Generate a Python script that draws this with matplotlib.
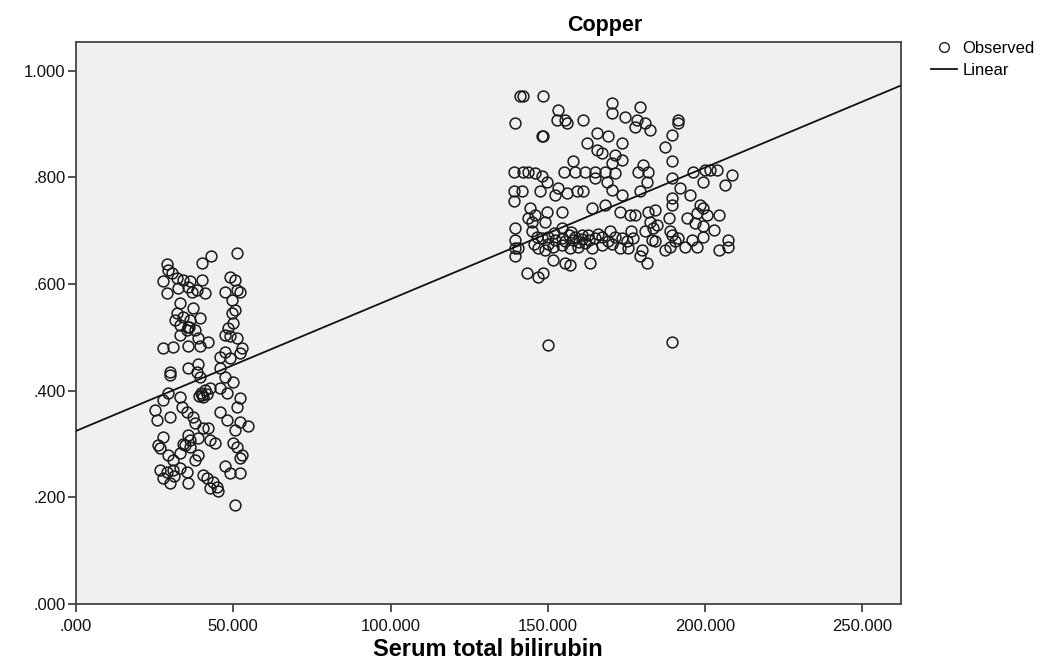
import matplotlib
matplotlib.use("Agg")
import matplotlib.pyplot as plt
from matplotlib.ticker import FuncFormatter
from matplotlib.lines import Line2D

plt.rcParams['font.family'] = ['Liberation Sans', 'DejaVu Sans']

# ---- data ----
title = "Copper"
x_label = "Serum total bilirubin"

low_x = [51.1, 42.8, 40.0, 28.8, 29.4, 30.4, 27.8, 32.0, 34.1, 36.3, 40.0, 35.7, 32.5, 28.8, 38.4,
         41.0, 36.8, 49.0, 50.6, 51.1, 47.4, 52.2, 49.5, 50.6, 49.5, 33.1, 37.3, 32.0, 34.1, 31.5,
         36.3, 39.4, 33.1, 35.7, 37.8, 35.2, 50.0, 48.4, 47.4, 49.0, 51.1, 33.1, 38.9, 42.1, 39.4,
         35.7, 27.8, 30.9, 52.7, 52.2, 47.4, 45.8, 49.0, 29.9, 35.7, 38.9, 38.4, 45.8,
         29.9, 39.4, 47.4, 50.0, 29.4, 33.1, 27.8, 40.0, 40.3, 39.7, 41.0, 42.6, 45.8, 47.9, 52.2,
         51.1, 25.1, 29.9, 33.6, 35.2, 25.7, 37.3, 37.8, 45.8, 47.9, 52.2, 54.8, 50.6, 40.5, 42.1,
         27.8, 35.7, 36.3, 38.9, 42.6, 44.2, 26.2, 26.7, 34.7, 36.3, 50.0, 51.1, 52.7, 52.2, 29.4,
         33.1, 38.9, 37.8, 26.7, 28.8, 30.9, 33.1, 35.2, 47.4, 49.0, 52.2, 27.8, 29.9, 35.7, 40.5,
         41.6, 43.7, 44.7, 45.3, 42.6, 50.6, 30.9, 39.0, 41.5, 36.0, 34.0, 31.0]
low_y = [0.658, 0.653, 0.639, 0.638, 0.627, 0.621, 0.605, 0.612, 0.608, 0.605, 0.608, 0.595, 0.593, 0.583, 0.589,
         0.583, 0.586, 0.614, 0.608, 0.589, 0.586, 0.586, 0.570, 0.552, 0.545, 0.564, 0.555, 0.545, 0.539, 0.533,
         0.533, 0.536, 0.523, 0.520, 0.514, 0.514, 0.527, 0.517, 0.505, 0.502, 0.498, 0.505, 0.498, 0.492, 0.483,
         0.483, 0.480, 0.482, 0.480, 0.470, 0.473, 0.464, 0.461, 0.436, 0.442, 0.451, 0.436, 0.442,
         0.430, 0.426, 0.426, 0.417, 0.395, 0.389, 0.383, 0.392, 0.388, 0.396, 0.401, 0.405, 0.405, 0.395, 0.386,
         0.370, 0.364, 0.351, 0.370, 0.361, 0.345, 0.351, 0.339, 0.361, 0.345, 0.342, 0.333, 0.326, 0.330, 0.330,
         0.314, 0.317, 0.308, 0.311, 0.308, 0.302, 0.298, 0.292, 0.298, 0.295, 0.302, 0.295, 0.280, 0.273, 0.280,
         0.283, 0.280, 0.270, 0.251, 0.248, 0.251, 0.255, 0.248, 0.258, 0.245, 0.245, 0.236, 0.226, 0.226, 0.242,
         0.236, 0.229, 0.220, 0.211, 0.217, 0.186, 0.270, 0.390, 0.394, 0.520, 0.300, 0.240]

high_x = [141.2, 142.2, 148.6, 139.6, 153.4, 152.9, 155.5, 156.0, 161.3, 170.4, 170.4, 174.6, 148.1, 148.6,
          165.6, 169.3, 173.5, 162.4, 165.6, 167.2, 171.4, 158.1, 170.4, 173.5, 139.1, 142.2, 143.8, 146.0,
          148.1, 155.0, 158.7, 161.9, 165.0, 168.2, 171.4, 165.0, 168.7, 149.7, 153.4, 139.1, 141.7, 147.6,
          152.3, 156.0, 159.2, 161.3, 170.4, 173.5, 139.1, 144.4, 149.7, 154.5, 164.0, 168.2, 173.0, 176.2,
          143.8, 144.9, 149.1, 139.6, 154.5, 139.6, 139.6, 140.6, 139.6,
          144.9, 146.5, 148.1, 150.2, 152.3, 154.5, 156.6, 158.7, 160.8, 162.9, 165.0, 167.2, 169.8, 171.4,
          173.5, 175.1, 175.6, 147.0, 149.1, 151.8, 154.5, 157.1, 159.7, 161.9, 164.0, 167.2, 169.3, 173.0,
          151.8, 155.5, 157.1, 163.5, 143.3, 147.0, 148.6, 150.2,
          155.5, 158.0, 160.0, 163.0, 150.0, 145.5, 152.0, 157.5, 161.0, 166.0, 170.5, 146.0,
          179.4, 178.3, 180.9, 182.5, 177.8, 191.5, 191.5, 189.4, 187.3, 189.4, 180.4, 178.8, 181.9, 181.5,
          179.4, 196.3, 200.0, 201.6, 203.7, 208.5, 206.4, 199.5, 189.4, 192.1, 195.3, 189.4, 189.4, 177.8,
          182.0, 184.1, 188.4, 194.2, 198.4, 199.5, 197.4, 200.5, 204.3, 182.5, 184.7, 181.0, 183.6, 196.8,
          199.5, 202.7, 188.9, 189.4, 199.5, 183.1, 184.1, 191.5, 190.5, 195.8, 197.4, 188.9, 193.7, 187.3,
          207.4, 207.4, 204.3, 179.9, 179.4, 181.5, 189.4, 176.5, 177.0]
high_y = [0.952, 0.952, 0.952, 0.902, 0.927, 0.908, 0.908, 0.902, 0.908, 0.939, 0.921, 0.914, 0.877, 0.877,
          0.883, 0.877, 0.864, 0.864, 0.852, 0.846, 0.842, 0.830, 0.827, 0.833, 0.811, 0.811, 0.811, 0.808,
          0.802, 0.811, 0.811, 0.811, 0.811, 0.811, 0.808, 0.799, 0.792, 0.792, 0.780, 0.774, 0.774, 0.774,
          0.767, 0.771, 0.774, 0.774, 0.777, 0.767, 0.755, 0.742, 0.736, 0.736, 0.742, 0.749, 0.736, 0.730,
          0.724, 0.717, 0.717, 0.705, 0.705, 0.683, 0.667, 0.667, 0.652,
          0.699, 0.689, 0.686, 0.689, 0.683, 0.686, 0.692, 0.689, 0.692, 0.692, 0.686, 0.689, 0.699, 0.689,
          0.686, 0.680, 0.667, 0.667, 0.664, 0.670, 0.674, 0.667, 0.670, 0.677, 0.667, 0.674, 0.680, 0.667,
          0.645, 0.639, 0.636, 0.639, 0.620, 0.614, 0.620, 0.486,
          0.680, 0.683, 0.678, 0.683, 0.676, 0.675, 0.695, 0.697, 0.684, 0.694, 0.676, 0.730,
          0.933, 0.908, 0.902, 0.889, 0.895, 0.908, 0.902, 0.880, 0.858, 0.830, 0.824, 0.811, 0.811, 0.792,
          0.774, 0.811, 0.814, 0.814, 0.814, 0.805, 0.786, 0.792, 0.799, 0.780, 0.767, 0.761, 0.749, 0.730,
          0.736, 0.739, 0.724, 0.724, 0.749, 0.742, 0.733, 0.730, 0.730, 0.717, 0.711, 0.699, 0.705, 0.714,
          0.708, 0.702, 0.699, 0.692, 0.689, 0.683, 0.680, 0.686, 0.680, 0.683, 0.670, 0.670, 0.670, 0.664,
          0.683, 0.670, 0.664, 0.664, 0.652, 0.639, 0.492, 0.700, 0.686]

fit_intercept = 0.3246
fit_slope = 0.00247

x_ticks = [0, 50, 100, 150, 200, 250]
y_ticks = [0.0, 0.2, 0.4, 0.6, 0.8, 1.0]
x_limits = (0, 262.3)
y_limits = (0, 1.054)

# ---- figure ----
fig = plt.figure(figsize=(10.61, 6.64), dpi=100)
fig.patch.set_facecolor('white')
ax = fig.add_axes([76/1061, 1-604/664, (901-76)/1061, (604-42)/664])
ax.set_facecolor('#f0f0f0')

obs_x = low_x + high_x
obs_y = low_y + high_y
ax.plot(obs_x, obs_y, linestyle='none', marker='o', markersize=7.8,
        markerfacecolor='none', markeredgecolor='#1a1a1a', markeredgewidth=1.1, zorder=3)

lx = [x_limits[0], x_limits[1]]
ly = [fit_intercept + fit_slope * v for v in lx]
ax.plot(lx, ly, color='#111111', linewidth=1.3, zorder=4)

ax.set_xlim(*x_limits)
ax.set_ylim(*y_limits)
ax.set_xticks(x_ticks)
ax.set_yticks(y_ticks)

def fmt(v, pos):
    s = f"{v:.3f}"
    if s.startswith("0."):
        s = s[1:]
    return s

ax.xaxis.set_major_formatter(FuncFormatter(fmt))
ax.yaxis.set_major_formatter(FuncFormatter(fmt))
ax.tick_params(axis='both', direction='out', length=6, width=1.2, color='#333333',
               labelsize=12, labelcolor='#111111')
ax.tick_params(axis='x', pad=5)
ax.tick_params(axis='y', pad=1.5)
for s in ax.spines.values():
    s.set_color('#444444')
    s.set_linewidth(1.3)

fig.text(605/1061, 1-25/664, title, ha='center', va='center', fontsize=15.5, fontweight='bold')
fig.text(488/1061, 1-650/664, x_label, ha='center', va='center', fontsize=17, fontweight='bold')

handles = [Line2D([], [], linestyle='none', marker='o', markersize=7, markerfacecolor='none',
                  markeredgecolor='#222222', markeredgewidth=1.0),
           Line2D([], [], color='#111111', linewidth=1.3)]
leg = fig.legend(handles, ['Observed', 'Linear'], loc='upper left',
                 bbox_to_anchor=(924/1061, 1-34/664), frameon=False, fontsize=12,
                 handlelength=1.6, handletextpad=0.3, labelspacing=0.45, borderaxespad=0)

fig.savefig('out.png', dpi=100, facecolor='white')
